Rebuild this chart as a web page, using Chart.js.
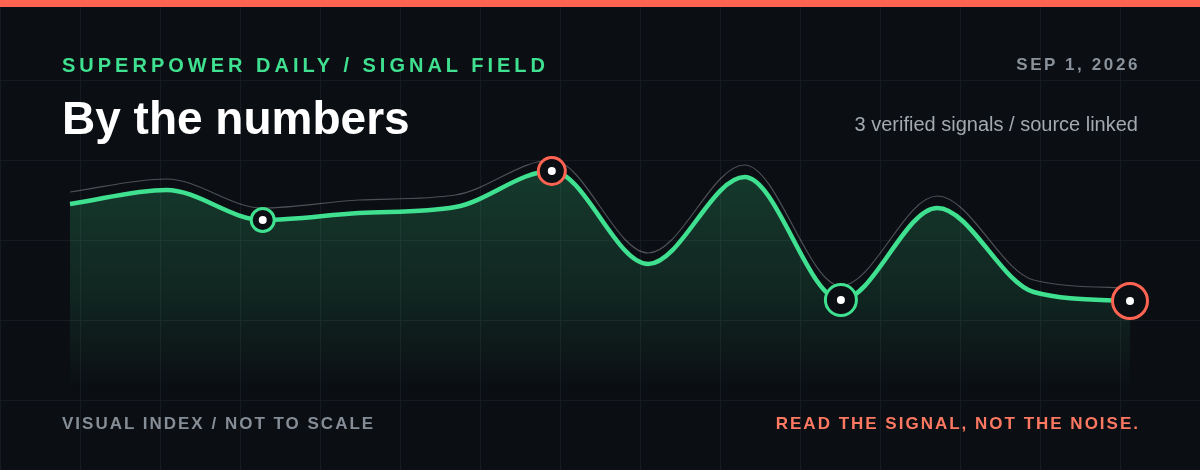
<!DOCTYPE html>
<html>
<head>
<meta charset="utf-8">
<script src="https://cdn.jsdelivr.net/npm/chart.js@4.4.1/dist/chart.umd.min.js"></script>
<style>
  html, body { margin: 0; padding: 0; }
  body {
    width: 1200px; height: 470px; overflow: hidden; position: relative;
    background-color: #0b0e13;
    background-image:
      linear-gradient(to right, #161b21 1px, transparent 1px),
      linear-gradient(to bottom, #161b21 1px, transparent 1px);
    background-size: 80px 80px;
    background-position: 0 0;
    font-family: "Liberation Sans", Arial, sans-serif;
  }
  .topbar { position: absolute; left: 0; top: 0; width: 1200px; height: 7px; background: #ff6452; }
  #chartWrap { position: absolute; left: 0; top: 0; width: 1200px; height: 470px; }
  .txt { position: absolute; white-space: nowrap; }
  .kicker { left: 62px; top: 54px; font-size: 20px; font-weight: bold; color: #3fe08f; letter-spacing: 4px; }
  .date { right: 60px; top: 55px; font-size: 17px; font-weight: bold; color: #8a929b; letter-spacing: 2.6px; }
  .title { left: 62px; top: 91px; font-size: 46px; font-weight: bold; color: #ffffff; }
  .sub { right: 62px; top: 113px; font-size: 20px; color: #a3a9b0; }
  .foot { top: 414px; font-size: 17px; font-weight: bold; letter-spacing: 2px; }
  .footL { left: 62px; color: #858d96; }
  .footR { right: 60px; color: #ff7862; }
</style>
</head>
<body>
<div class="topbar"></div>
<div id="chartWrap"><canvas id="myChart" width="1200" height="470"></canvas></div>
<div class="txt kicker">SUPERPOWER DAILY / SIGNAL FIELD</div>
<div class="txt date">SEP 1, 2026</div>
<div class="txt title">By the numbers</div>
<div class="txt sub">3 verified signals / source linked</div>
<div class="txt foot footL">VISUAL INDEX / NOT TO SCALE</div>
<div class="txt foot footR">READ THE SIGNAL, NOT THE NOISE.</div>
<script>
  // values are a visual index
  const labels = ['1', '2', '3', '4', '5', '6', '7', '8', '9', '10', '11', '12'];
  const signal = [196, 210, 180, 187, 193, 229, 136, 223, 100, 192, 108, 99];
  const echo = [208, 221, 192, 200, 205, 240, 147, 235, 114, 204, 120, 112];
  const markerIdx = [2, 5, 8, 11];
  const markerKind = ['green', 'red', 'green', 'red'];

  const GREEN = '#3fe08f';
  const RED = '#ff6452';
  const BG = '#0b0e13';

  function mainChart() {
    const ctx = document.getElementById('myChart');

    const ringR = labels.map(() => 0);
    const ringC = labels.map(() => GREEN);
    const dots = labels.map(() => null);
    markerIdx.forEach((idx, i) => {
      ringR[idx] = 11.5 + i * 2;
      ringC[idx] = markerKind[i] === 'red' ? RED : GREEN;
      dots[idx] = signal[idx];
    });

    new Chart(ctx, {
      type: 'line',
      data: {
        labels: labels,
        datasets: [
          {
            label: 'dots',
            data: dots,
            showLine: false,
            pointRadius: 4,
            pointBackgroundColor: '#ffffff',
            pointBorderWidth: 0,
            clip: false,
            order: 0
          },
          {
            label: 'signal',
            data: signal,
            borderColor: GREEN,
            borderWidth: 4.5,
            cubicInterpolationMode: 'monotone',
            pointRadius: ringR,
            pointBorderColor: ringC,
            pointBackgroundColor: BG,
            pointBorderWidth: 3,
            fill: 'origin',
            backgroundColor: (c) => {
              const area = c.chart.chartArea;
              if (!area) return 'rgba(63,224,143,0.2)';
              const g = c.chart.ctx.createLinearGradient(0, 160, 0, 392);
              g.addColorStop(0, 'rgba(63,224,143,0.22)');
              g.addColorStop(0.6, 'rgba(63,224,143,0.11)');
              g.addColorStop(1, 'rgba(63,224,143,0)');
              return g;
            },
            clip: false,
            order: 1
          },
          {
            label: 'echo',
            data: echo,
            borderColor: 'rgba(200,205,212,0.35)',
            borderWidth: 1.2,
            cubicInterpolationMode: 'monotone',
            pointRadius: 0,
            fill: false,
            clip: false,
            order: 2
          }
        ]
      },
      options: {
        responsive: false,
        animation: false,
        layout: { padding: { left: 70, right: 70, top: 120, bottom: 70 } },
        plugins: { legend: { display: false }, tooltip: { enabled: false } },
        scales: {
          x: { display: false, offset: false },
          y: { display: false, min: 0, max: 280 }
        }
      }
    });
  }
  document.addEventListener('DOMContentLoaded', () => mainChart());
</script>
</body>
</html>
